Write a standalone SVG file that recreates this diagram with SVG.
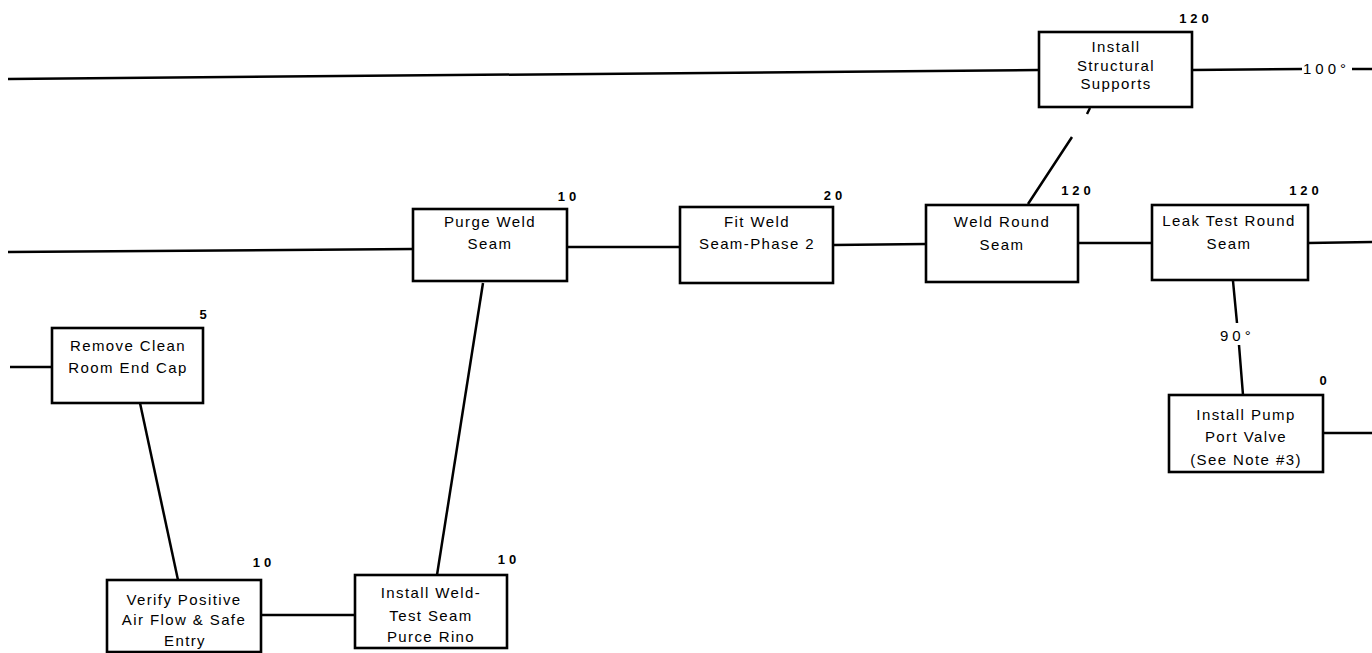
<svg xmlns="http://www.w3.org/2000/svg" width="1372" height="653" viewBox="0 0 1372 653">
<style>
.box{fill:#fff;stroke:#000;stroke-width:2.6}
.t{font-family:"Liberation Sans",Arial,sans-serif;font-size:15px;letter-spacing:1.4px;text-anchor:middle;fill:#000}
.n{font-family:"Liberation Sans",Arial,sans-serif;font-size:13px;font-weight:bold;letter-spacing:4px;text-anchor:middle;fill:#000}
.d{font-family:"Liberation Sans",Arial,sans-serif;font-size:15px;letter-spacing:4px;text-anchor:start;fill:#000}
.c{fill:none;stroke:#000;stroke-width:2.5}
</style>
<rect width="1372" height="653" fill="#fff"/>
<g id="connectors">
<path class="c" d="M8,79 L1038,70"/>
<path class="c" d="M1192,70 L1302,69"/>
<path class="c" d="M1352,69 L1372,69"/>
<path class="c" d="M8,252 L413,249"/>
<path class="c" d="M567,247 L680,247"/>
<path class="c" d="M833,245 L926,244"/>
<path class="c" d="M1078,243 L1152,243"/>
<path class="c" d="M1308,243 L1372,242"/>
<path class="c" d="M1028,204 L1072,137 M1087,114 L1090,108"/>
<path class="c" d="M1233,281 L1237,323 M1239,345 L1243,395"/>
<path class="c" d="M1323,433 L1372,433"/>
<path class="c" d="M10,367 L52,367"/>
<path class="c" d="M140,403 L178,580"/>
<path class="c" d="M483,283 L437,575"/>
<path class="c" d="M262,615 L355,615"/>
<text class="d" x="1303" y="74">100°</text>
<text class="d" x="1220" y="341">90°</text>
</g>
<g id="n-structural">
<rect class="box" x="1039" y="32" width="153" height="75"/>
<text class="t" x="1116" y="52">Install</text>
<text class="t" x="1116" y="71">Structural</text>
<text class="t" x="1116" y="89">Supports</text>
<text class="n" x="1196" y="23">120</text>
</g>
<g id="n-purge">
<rect class="box" x="413" y="209" width="154" height="72"/>
<text class="t" x="490" y="227">Purge Weld</text>
<text class="t" x="490" y="249">Seam</text>
<text class="n" x="569" y="201">10</text>
</g>
<g id="n-fit">
<rect class="box" x="680" y="207" width="153" height="76"/>
<text class="t" x="757" y="227">Fit Weld</text>
<text class="t" x="757" y="249">Seam-Phase 2</text>
<text class="n" x="835" y="200">20</text>
</g>
<g id="n-weldround">
<rect class="box" x="926" y="205" width="152" height="77"/>
<text class="t" x="1002" y="227">Weld Round</text>
<text class="t" x="1002" y="250">Seam</text>
<text class="n" x="1078" y="195">120</text>
</g>
<g id="n-leak">
<rect class="box" x="1152" y="205" width="156" height="75"/>
<text class="t" x="1229" y="226">Leak Test Round</text>
<text class="t" x="1229" y="249">Seam</text>
<text class="n" x="1306" y="195">120</text>
</g>
<g id="n-pump">
<rect class="box" x="1169" y="395" width="154" height="77"/>
<text class="t" x="1246" y="420">Install Pump</text>
<text class="t" x="1246" y="442">Port Valve</text>
<text class="t" x="1246" y="465">(See Note #3)</text>
<text class="n" x="1325" y="385">0</text>
</g>
<g id="n-remove">
<rect class="box" x="52" y="328" width="151" height="75"/>
<text class="t" x="128" y="351">Remove Clean</text>
<text class="t" x="128" y="373">Room End Cap</text>
<text class="n" x="205" y="319">5</text>
</g>
<g id="n-verify">
<rect class="box" x="107" y="580" width="154" height="72"/>
<text class="t" x="184" y="605">Verify  Positive</text>
<text class="t" x="184" y="625">Air Flow &amp; Safe</text>
<text class="t" x="185" y="646">Entry</text>
<text class="n" x="264" y="567">10</text>
</g>
<g id="n-purgering">
<rect class="box" x="355" y="575" width="152" height="73"/>
<text class="t" x="431" y="598">Install Weld-</text>
<text class="t" x="431" y="621">Test Seam</text>
<text class="t" x="431" y="642">Purce Rino</text>
<text class="n" x="509" y="564">10</text>
</g>
</svg>
